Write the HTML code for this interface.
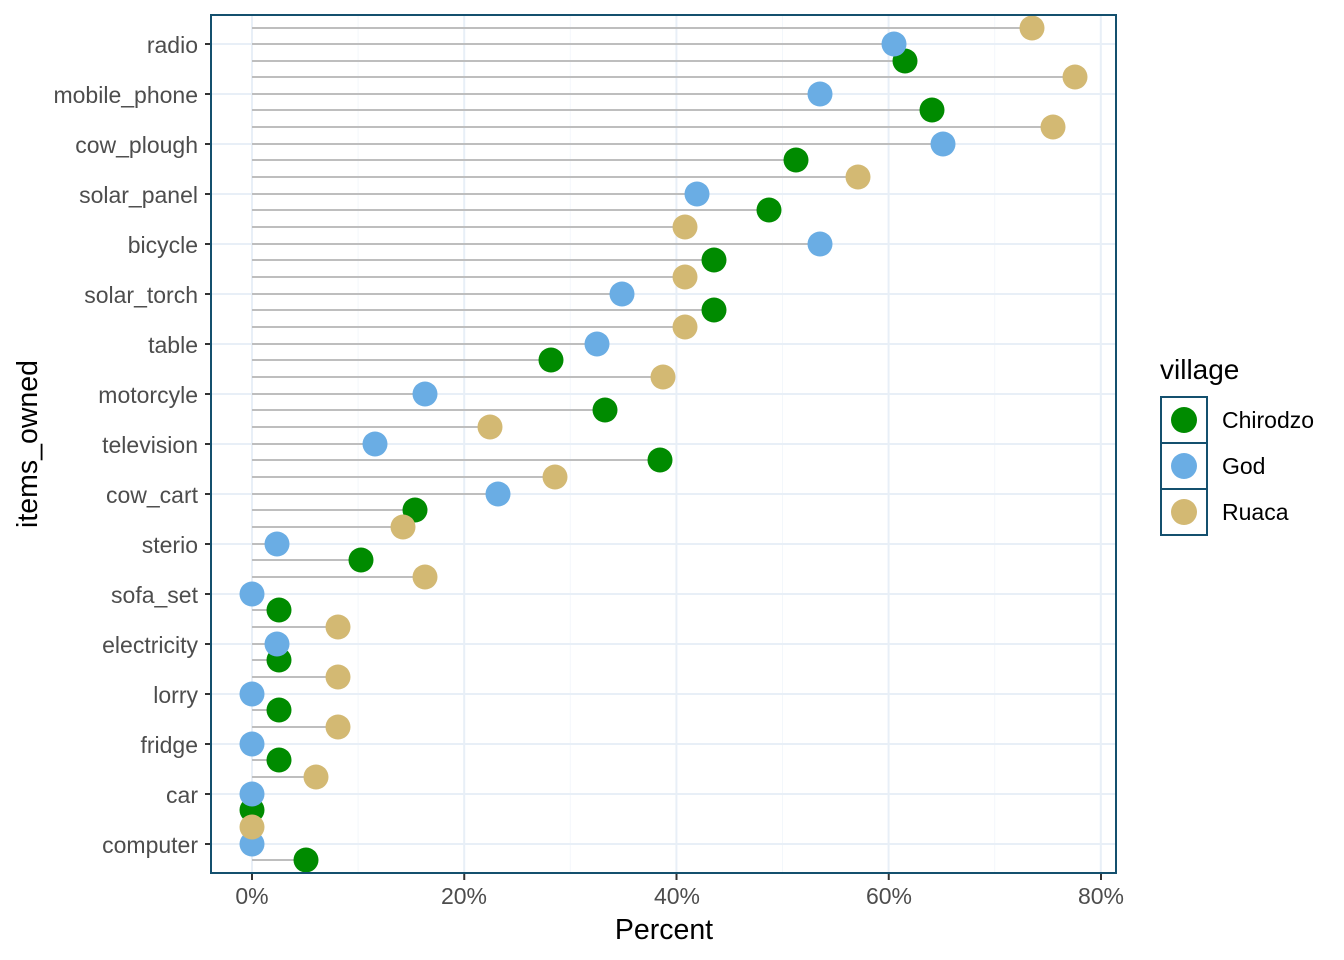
<!DOCTYPE html>
<html><head><meta charset="utf-8"><style>
html,body{margin:0;padding:0;background:#fff;}
svg{display:block;font-family:"Liberation Sans",sans-serif;}
</style></head><body>
<svg id="s" width="1344" height="960" viewBox="0 0 1344 960" xmlns="http://www.w3.org/2000/svg">
<rect width="1344" height="960" fill="#fff"/>
<g id="grid"></g>
<g id="segs"></g>
<g id="dots"></g>
<rect x="211" y="15" width="905" height="858" fill="none" stroke="#14506e" stroke-width="2"/>
<g font-size="23" fill="#4d4d4d" text-anchor="end">
<text x="198" y="53">radio</text>
<text x="198" y="103">mobile_phone</text>
<text x="198" y="153">cow_plough</text>
<text x="198" y="203">solar_panel</text>
<text x="198" y="253">bicycle</text>
<text x="198" y="303">solar_torch</text>
<text x="198" y="353">table</text>
<text x="198" y="403">motorcyle</text>
<text x="198" y="453">television</text>
<text x="198" y="503">cow_cart</text>
<text x="198" y="553">sterio</text>
<text x="198" y="603">sofa_set</text>
<text x="198" y="653">electricity</text>
<text x="198" y="703">lorry</text>
<text x="198" y="753">fridge</text>
<text x="198" y="803">car</text>
<text x="198" y="853">computer</text>
</g>
<g font-size="23" fill="#4d4d4d" text-anchor="middle">
<text x="252" y="904">0%</text>
<text x="464" y="904">20%</text>
<text x="677" y="904">40%</text>
<text x="889" y="904">60%</text>
<text x="1101" y="904">80%</text>
</g>
<text x="664" y="939" font-size="28.5" text-anchor="middle" fill="#000">Percent</text>
<text transform="translate(37,444) rotate(-90)" font-size="28.5" text-anchor="middle" fill="#000">items_owned</text>
<text x="1160" y="379" font-size="28" fill="#000">village</text>
<g stroke="#14506e" stroke-width="2" fill="#fff">
<rect x="1161" y="397" width="46" height="46"/>
<rect x="1161" y="443" width="46" height="46"/>
<rect x="1161" y="489" width="46" height="46"/>
</g>
<circle cx="1184" cy="420" r="13" fill="#008b00"/>
<circle cx="1184" cy="466" r="13" fill="#6aade4"/>
<circle cx="1184" cy="512" r="13" fill="#d3b973"/>
<g font-size="23" fill="#000">
<text x="1222" y="428">Chirodzo</text>
<text x="1222" y="474">God</text>
<text x="1222" y="520">Ruaca</text>
</g>
</svg>
<script>
var NS="http://www.w3.org/2000/svg";
function el(p,t,a){var e=document.createElementNS(NS,t);for(var k in a)e.setAttribute(k,a[k]);document.getElementById(p).appendChild(e);}
for(var i=0;i<=8;i++){var x=252+i*106.1;el("grid","line",{x1:x,x2:x,y1:16,y2:872,stroke:i%2?"#f3f7fb":"#e8eff7","stroke-width":i%2?1:2});}
for(var j=0;j<17;j++){var y=44+j*50;el("grid","line",{x1:212,x2:1115,y1:y,y2:y,stroke:"#e8eff7","stroke-width":2});}
for(var j=0;j<17;j++){el("grid","line",{x1:205,x2:211,y1:44+j*50,y2:44+j*50,stroke:"#333","stroke-width":2});}
for(var i=0;i<=4;i++){var x=252+i*212.25;el("grid","line",{x1:x,x2:x,y1:873,y2:880,stroke:"#333","stroke-width":2});}
var d=[[1032,28,2],[894,44,1],[905,61,0],[1075,77,2],[820,94,1],[932,110,0],[1053,127,2],[943,144,1],[796,160,0],[858,177,2],[697,194,1],[769,210,0],[685,227,2],[820,244,1],[714,260,0],[685,277,2],[622,294,1],[714,310,0],[685,327,2],[597,344,1],[551,360,0],[663,377,2],[425,394,1],[605,410,0],[490,427,2],[375,444,1],[660,460,0],[555,477,2],[498,494,1],[415,510,0],[403,527,2],[277,544,1],[361,560,0],[425,577,2],[252,594,1],[279,610,0],[338,627,2],[277,644,1],[279,660,0],[338,677,2],[252,694,1],[279,710,0],[338,727,2],[252,744,1],[279,760,0],[316,777,2],[252,794,1],[252,810,0],[252,827,2],[252,844,1],[306,860,0]];
var c=["#008b00","#6aade4","#d3b973"];
d.forEach(function(p){el("segs","line",{x1:252,x2:p[0],y1:p[1],y2:p[1],stroke:"#bebebe","stroke-width":2});});
[0,1,2].forEach(function(g){d.forEach(function(p){if(p[2]==g)el("dots","circle",{cx:p[0],cy:p[1],r:12.5,fill:c[g]});});});
</script>
</body></html>
